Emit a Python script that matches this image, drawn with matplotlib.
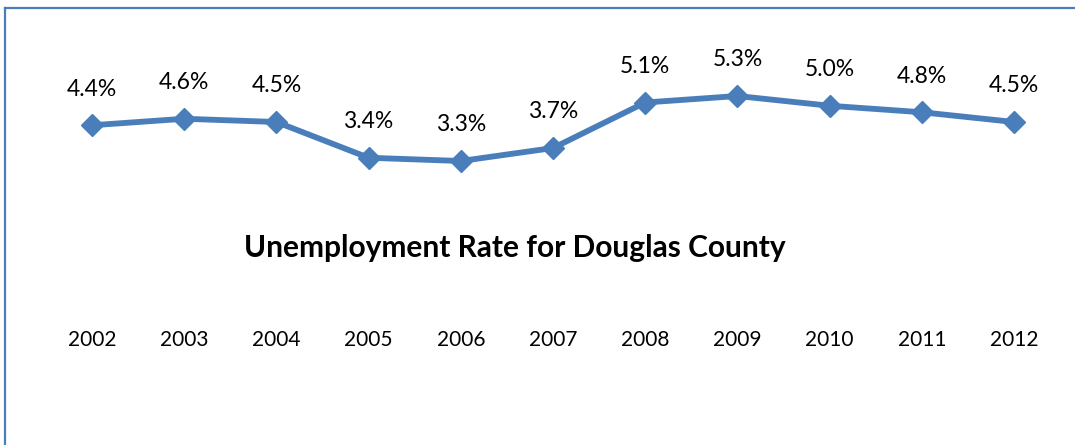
import matplotlib
matplotlib.use("Agg")
import matplotlib.pyplot as plt
from matplotlib.lines import Line2D

years = ["2002", "2003", "2004", "2005", "2006", "2007", "2008", "2009", "2010", "2011", "2012"]
rates = [4.4, 4.6, 4.5, 3.4, 3.3, 3.7, 5.1, 5.3, 5.0, 4.8, 4.5]
title = "Unemployment Rate for Douglas County"

W, H = 1075, 445
fig = plt.figure(figsize=(W / 100, H / 100), dpi=100)
fig.patch.set_facecolor("white")

blue = "#4A7EBB"
font = ["Lato", "DejaVu Sans"]

# axes spanning full width, bottom at pixel row 329
ax_bottom_px = 329
ax = fig.add_axes([0, (H - ax_bottom_px) / H, 1, ax_bottom_px / H])
ax.set_facecolor("none")

x = list(range(len(years)))
ax.plot(x, rates, color=blue, lw=4.2, marker="D", markersize=11,
        markerfacecolor=blue, markeredgecolor=blue, solid_joinstyle="miter")

for xi, v in zip(x, rates):
    ax.annotate(f"{v:.1f}%", (xi, v), xytext=(0, 26), textcoords="offset points",
                ha="center", va="center", fontsize=16.5, family=font, color="black")

ax.set_xlim(-0.998, 10.661)
ax.set_ylim(-1.869, 8.254)
ax.set_xticks(x)
ax.set_xticklabels(years, fontsize=15, family=font)
ax.tick_params(axis="x", length=0, pad=1)
ax.set_yticks([])
for s in ax.spines.values():
    s.set_visible(False)

fig.text(515 / W, (H - 248) / H, title, ha="center", va="center",
         fontsize=21.5, fontweight="bold", family=font)

# chart frame (top and left edges visible in crop)
fig.add_artist(Line2D([5 / W, 5 / W], [0, (H - 8) / H], color=blue, lw=1.6,
                      transform=fig.transFigure))
fig.add_artist(Line2D([5 / W, 1], [(H - 8) / H, (H - 8) / H], color=blue, lw=1.6,
                      transform=fig.transFigure))

fig.savefig("out.png", dpi=100, facecolor="white")
